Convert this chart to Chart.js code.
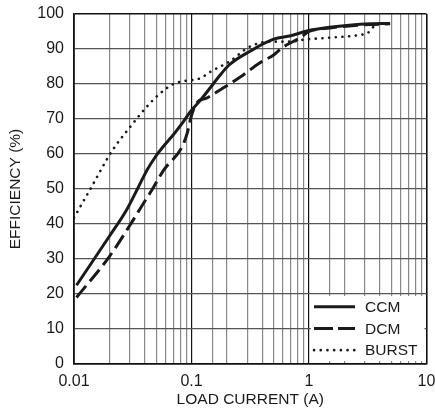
<!DOCTYPE html>
<html>
<head>
<meta charset="utf-8">
<title>Efficiency vs Load Current</title>
<script src="https://cdn.jsdelivr.net/npm/chart.js@4.4.1/dist/chart.umd.min.js"></script>
<style>
  html, body { margin: 0; padding: 0; background: #fff; }
</style>
</head>
<body>
<canvas id="effChart" width="435" height="419"></canvas>
<script>
// load current (A) / efficiency (%) per operating mode
var ccmCurrent = [0.0105, 0.02, 0.028, 0.035, 0.042, 0.05, 0.058, 0.07, 0.085, 0.1, 0.12, 0.145, 0.17, 0.21, 0.32, 0.5, 0.7, 1.0, 1.5, 2.2, 3.3, 4.9];
var ccmEff     = [22.5, 36.5, 44, 50.3, 55.5, 59.5, 62.3, 65.5, 69.2, 72.5, 75.5, 79, 82, 85.5, 89.5, 92.8, 93.8, 95.3, 96.2, 96.8, 97.2, 97.3];

var dcmCurrent = [0.0105, 0.02, 0.03, 0.04, 0.046, 0.058, 0.083, 0.092, 0.1, 0.11, 0.135, 0.175, 0.26, 0.38, 0.5, 0.6, 0.84, 1.0, 1.5, 2.2, 3.3, 4.9];
var dcmEff     = [19, 30.7, 39.7, 46.5, 49.7, 55.4, 62, 66, 71, 74.5, 76, 78.3, 82, 86, 88.3, 90.5, 93.2, 95, 96, 96.6, 97, 97.2];

var burstCurrent = [0.01, 0.0141, 0.0209, 0.031, 0.0416, 0.054, 0.07, 0.085, 0.1, 0.12, 0.145, 0.21, 0.315, 0.465, 0.69, 0.92, 1.6, 2.7, 3.17, 3.5, 3.9];
var burstEff     = [41.8, 50.6, 60.7, 68.3, 73.5, 77.3, 80, 80.8, 81.1, 81.7, 83.5, 86.4, 90.7, 92.1, 92.1, 92.7, 93.3, 94, 94.6, 96.2, 97];

var seriesNames = ["CCM", "DCM", "BURST"];
var xTickLabels = ["0.01", "0.1", "1", "10"];
var yTicks = [0, 10, 20, 30, 40, 50, 60, 70, 80, 90, 100];

var ink = "#1a1a1a";
var fontFamily = "'Liberation Sans', Arial, sans-serif";

function toPoints(xs, ys) {
    return xs.map((x, i) => ({ x: x, y: ys[i] }));
}

function isDecade(v) {
    var e = Math.log10(v);
    return Math.abs(e - Math.round(e)) < 1e-6;
}

// white legend panel in the lower right corner of the plot
const legendBox = {
    id: "legendBox",
    beforeDatasetsDraw(chart) {
        const { ctx, chartArea, scales } = chart;
        const left = scales.x.getPixelForValue(1) + 2;
        const top = scales.y.getPixelForValue(20) + 2;
        const right = chartArea.right - 2;
        const bottom = chartArea.bottom - 3;
        const rowH = (bottom - top) / chart.data.datasets.length;

        ctx.save();
        ctx.fillStyle = "#fff";
        ctx.fillRect(left, top, right - left, bottom - top);

        chart.data.datasets.forEach((ds, i) => {
            const cy = top + rowH * (i + 0.5);
            ctx.beginPath();
            ctx.strokeStyle = ds.borderColor;
            ctx.lineWidth = ds.borderWidth;
            ctx.lineCap = ds.borderCapStyle || "butt";
            ctx.setLineDash(ds.legendDash || ds.borderDash || []);
            ctx.moveTo(left + 3, cy);
            ctx.lineTo(left + 44, cy);
            ctx.stroke();

            ctx.setLineDash([]);
            ctx.fillStyle = ink;
            ctx.font = "15.5px " + fontFamily;
            ctx.textBaseline = "middle";
            ctx.textAlign = "left";
            ctx.fillText(ds.label, left + 54, cy + 1);
        });
        ctx.restore();
    }
};

new Chart("effChart", {
    type: "line",
    data: {
        datasets: [{
            label: seriesNames[0],
            data: toPoints(ccmCurrent, ccmEff),
            borderColor: ink,
            borderWidth: 3,
            cubicInterpolationMode: "monotone",
            fill: false
        }, {
            label: seriesNames[1],
            data: toPoints(dcmCurrent, dcmEff),
            borderColor: ink,
            borderWidth: 3,
            borderDash: [15, 6],
            legendDash: [19, 5],
            cubicInterpolationMode: "monotone",
            fill: false
        }, {
            label: seriesNames[2],
            data: toPoints(burstCurrent, burstEff),
            borderColor: ink,
            borderWidth: 2.6,
            borderDash: [0.1, 6.6],
            borderCapStyle: "round",
            cubicInterpolationMode: "monotone",
            fill: false
        }]
    },
    options: {
        responsive: false,
        animation: false,
        devicePixelRatio: 1,
        layout: {
            padding: { left: 0, right: 8.5, top: 14, bottom: 0 }
        },
        elements: { point: { radius: 0 } },
        plugins: {
            legend: { display: false },
            tooltip: { enabled: false }
        },
        scales: {
            x: {
                type: "logarithmic",
                min: 0.01,
                max: 10,
                afterFit: s => {
                    s.height = 55;
                    s.paddingLeft = 0;
                    s.paddingRight = 0;
                },
                grid: {
                    drawTicks: false,
                    color: c => isDecade(c.tick.value) ? "#111" : "#888",
                    lineWidth: c => (c.tick.value <= 0.01 || c.tick.value >= 10) ? 1.6 : 1.2
                },
                border: { color: "#111", width: 1.6 },
                ticks: {
                    autoSkip: false,
                    maxRotation: 0,
                    padding: 8,
                    color: ink,
                    font: { family: fontFamily, size: 16 },
                    callback: function(v) {
                        if (!isDecade(v)) return "";
                        return xTickLabels[Math.round(Math.log10(v)) + 2];
                    }
                },
                title: {
                    display: true,
                    text: "LOAD CURRENT (A)",
                    color: ink,
                    font: { family: fontFamily, size: 15.5 },
                    padding: { top: 0, bottom: 10 }
                }
            },
            y: {
                min: 0,
                max: 100,
                afterFit: s => {
                    s.width = 74;
                    s.paddingTop = 0;
                    s.paddingBottom = 0;
                },
                afterBuildTicks: s => { s.ticks = yTicks.map(v => ({ value: v })); },
                grid: {
                    drawTicks: false,
                    color: c => (c.tick.value === 0 || c.tick.value === 100) ? "#111" : "#555",
                    lineWidth: c => (c.tick.value === 0 || c.tick.value === 100) ? 1.6 : 1.2
                },
                border: { color: "#111", width: 1.6 },
                ticks: {
                    padding: 10,
                    color: ink,
                    font: { family: fontFamily, size: 16 }
                },
                title: {
                    display: true,
                    text: "EFFICIENCY (%)",
                    color: ink,
                    font: { family: fontFamily, size: 15.5 },
                    padding: { top: 6, bottom: 0 }
                }
            }
        }
    },
    plugins: [legendBox]
});
</script>
</body>
</html>
